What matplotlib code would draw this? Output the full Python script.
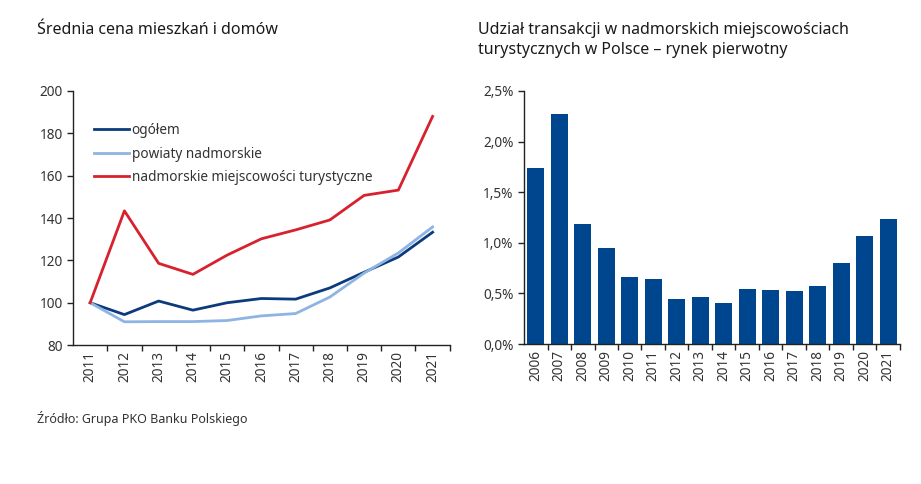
import matplotlib
matplotlib.use("Agg")
import matplotlib.pyplot as plt
import numpy as np

plt.rcParams['font.family'] = ['Noto Sans', 'DejaVu Sans']

years_left = ['2011', '2012', '2013', '2014', '2015', '2016', '2017', '2018', '2019', '2020', '2021']
ogolem = [100, 94.4, 100.8, 96.5, 100, 102, 101.7, 107, 114.4, 121.6, 133.3]
powiaty = [100, 91, 91.1, 91.1, 91.6, 93.8, 94.9, 102.7, 114, 123.5, 135.8]
miejscowosci = [100, 143.4, 118.6, 113.4, 122.5, 130.2, 134.4, 139.1, 150.7, 153.2, 188]

years_right = ['2006', '2007', '2008', '2009', '2010', '2011', '2012', '2013',
               '2014', '2015', '2016', '2017', '2018', '2019', '2020', '2021']
udzial = [1.74, 2.27, 1.19, 0.95, 0.66, 0.645, 0.447, 0.464,
          0.408, 0.549, 0.53, 0.526, 0.572, 0.806, 1.066, 1.24]

DARK = '#0b3b7c'
LIGHT = '#8db4e2'
RED = '#d7212e'
BAR = '#00468e'
TXT = '#333333'

fig = plt.figure(figsize=(9.21, 4.84), dpi=100)


def style_axes(ax, n):
    for s in ['top', 'right']:
        ax.spines[s].set_visible(False)
    for s in ['left', 'bottom']:
        ax.spines[s].set_color('#222222')
        ax.spines[s].set_linewidth(1.0)
    ax.set_xlim(-0.5, n - 0.5)
    ax.set_xticks(np.arange(n))
    ax.set_xticks(np.arange(n) + 0.5, minor=True)
    ax.tick_params(axis='x', which='major', length=0, rotation=90, labelsize=9.8, colors=TXT, pad=4)
    ax.tick_params(axis='x', which='minor', length=4, width=1, color='#222222')
    ax.tick_params(axis='y', length=4, width=1, labelsize=9.8, colors=TXT, color='#222222')


# left chart
ax1 = fig.add_axes([0.0793, 0.287, 0.409, 0.525])
x = np.arange(len(years_left))
ax1.plot(x, ogolem, color=DARK, lw=2, label='ogółem')
ax1.plot(x, powiaty, color=LIGHT, lw=2, label='powiaty nadmorskie')
ax1.plot(x, miejscowosci, color=RED, lw=2, label='nadmorskie miejscowości turystyczne')
style_axes(ax1, len(years_left))
ax1.set_xticklabels(years_left)
ax1.set_ylim(80, 200)
ax1.set_yticks(np.arange(80, 201, 20))
ax1.legend(loc='upper left', bbox_to_anchor=(0.04, 0.895), frameon=False, fontsize=9.8,
           handlelength=2.6, handletextpad=0.2, labelspacing=0.62, borderaxespad=0,
           labelcolor=TXT)

# right chart
ax2 = fig.add_axes([0.569, 0.289, 0.408, 0.523])
x2 = np.arange(len(years_right))
ax2.bar(x2, udzial, width=0.73, color=BAR)
style_axes(ax2, len(years_right))
ax2.set_xticklabels(years_right)
ax2.set_ylim(0, 2.5)
yt = np.arange(0, 2.51, 0.5)
ax2.set_yticks(yt)
ax2.set_yticklabels([('%.1f%%' % v).replace('.', ',') for v in yt])

# titles and source
fig.text(0.040, 0.938, 'Średnia cena mieszkań i domów', fontsize=11.5, color='#1a1a1a', va='center')
fig.text(0.519, 0.938, 'Udział transakcji w nadmorskich miejscowościach', fontsize=11.5,
         color='#1a1a1a', va='center')
fig.text(0.519, 0.896, 'turystycznych w Polsce – rynek pierwotny', fontsize=11.5,
         color='#1a1a1a', va='center')
fig.text(0.040, 0.136, 'Źródło: Grupa PKO Banku Polskiego', fontsize=9, color=TXT, va='center')

fig.savefig('out.png', dpi=100, facecolor='white')
